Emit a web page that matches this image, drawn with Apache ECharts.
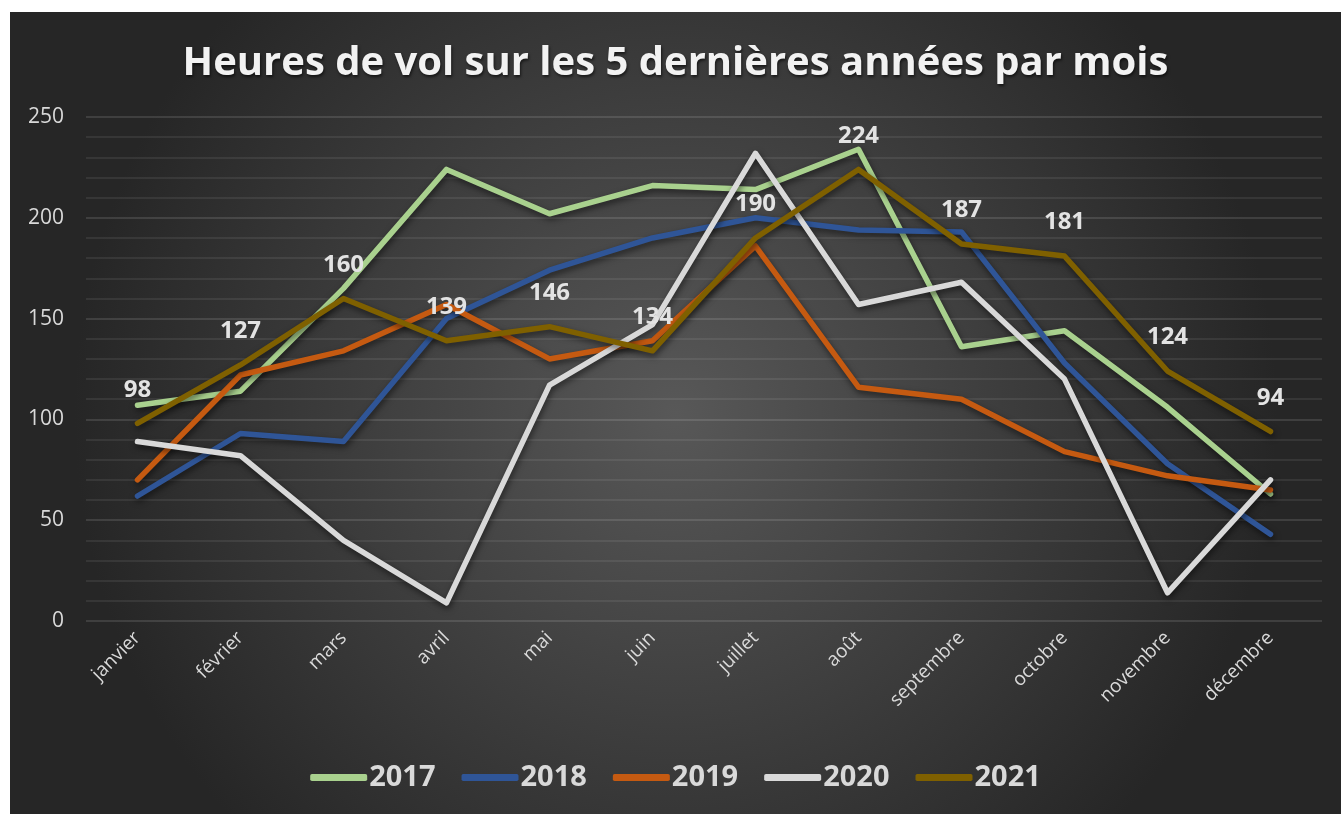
<!DOCTYPE html>
<html>
<head>
<meta charset="utf-8">
<script src="https://cdn.jsdelivr.net/npm/echarts@6/dist/echarts.min.js"></script>
<style>
  html, body { margin: 0; padding: 0; background: #ffffff; }
  #chart { position: absolute; left: 10px; top: 12px; width: 1331px; height: 802px; }
</style>
</head>
<body>
<div id="chart"></div>
<script>
// mois
var months = ['janvier', 'février', 'mars', 'avril', 'mai', 'juin', 'juillet', 'août', 'septembre', 'octobre', 'novembre', 'décembre'];
var years = ['2017', '2018', '2019', '2020', '2021'];

// heures de vol par année
var h2017 = [107, 114, 165, 224, 202, 216, 214, 234, 136, 144, 106, 63];
var h2018 = [62, 93, 89, 150, 174, 190, 200, 194, 193, 128, 78, 43];
var h2019 = [70, 122, 134, 157, 130, 139, 186, 116, 110, 84, 72, 65];
var h2020 = [89, 82, 40, 9, 117, 147, 232, 157, 168, 120, 14, 70];
var h2021 = [98, 127, 160, 139, 146, 134, 190, 224, 187, 181, 124, 94];

var myColor = ['#A9D18E', '#2F5597', '#C55A11', '#D9D9D9', '#7F6000'];
var allData = [h2017, h2018, h2019, h2020, h2021];

var series = [];
var legendData = [];
for (var i = 0; i < years.length; i++) {
  var withLabel = (i === 4); // seule 2021 a ses valeurs
  series.push({
    name: years[i],
    type: 'line',
    data: allData[i],
    symbol: 'circle',
    showSymbol: withLabel,
    symbolSize: 1,
    lineStyle: {
      width: 5.5,
      color: myColor[i],
      cap: 'round',
      join: 'round',
      shadowColor: 'rgba(0,0,0,0.55)',
      shadowBlur: 6,
      shadowOffsetX: 1,
      shadowOffsetY: 3
    },
    itemStyle: { color: myColor[i], opacity: withLabel ? 0 : 1 },
    label: {
      show: withLabel,
      position: 'top',
      distance: 21,
      color: '#E3E3E3',
      opacity: 1,
      fontFamily: 'Open Sans',
      fontWeight: 'bold',
      fontSize: 24
    },
    emphasis: { disabled: true }
  });
  legendData.push({ name: years[i], itemStyle: { color: myColor[i], opacity: 1 } });
}

var option = {
  backgroundColor: {
    type: 'radial',
    x: 0.5,
    y: 0.5,
    r: 0.75,
    colorStops: [
      { offset: 0, color: '#585858' },
      { offset: 1, color: '#262626' }
    ]
  },
  title: {
    text: 'Heures de vol sur les 5 dernières années par mois',
    left: 'center',
    top: 27,
    textStyle: {
      fontFamily: 'Open Sans',
      fontSize: 40,
      fontWeight: 'bold',
      color: '#F2F2F2',
      textShadowColor: 'rgba(0,0,0,0.6)',
      textShadowBlur: 3,
      textShadowOffsetX: 1,
      textShadowOffsetY: 2
    }
  },
  legend: {
    data: legendData,
    bottom: 17,
    left: 'center',
    icon: 'roundRect',
    itemWidth: 57,
    itemHeight: 7,
    itemGap: 26,
    textStyle: {
      fontFamily: 'Open Sans',
      fontSize: 29,
      fontWeight: 'bold',
      color: '#D9D9D9',
      padding: [0, 0, 0, -3]
    }
  },
  grid: {
    top: 105,
    left: 76,
    right: 19,
    bottom: 193,
    containLabel: false
  },
  xAxis: {
    type: 'category',
    data: months,
    boundaryGap: true,
    axisLine: { show: false },
    axisTick: { show: false },
    axisLabel: {
      rotate: 45,
      margin: 14,
      color: '#D9D9D9',
      fontFamily: 'Open Sans',
      fontSize: 19
    }
  },
  yAxis: {
    type: 'value',
    min: 0,
    max: 250,
    interval: 50,
    axisLine: { show: false },
    axisTick: { show: false },
    axisLabel: {
      margin: 22,
      color: '#D9D9D9',
      fontFamily: 'Open Sans',
      fontSize: 21
    },
    splitLine: {
      lineStyle: { color: 'rgba(255,255,255,0.16)', width: 1.5 }
    },
    minorTick: { show: false, splitNumber: 5 },
    minorSplitLine: {
      show: true,
      lineStyle: { color: 'rgba(255,255,255,0.10)', width: 1.5 }
    }
  },
  series: series
};

var myChart = echarts.init(document.getElementById('chart'));
myChart.setOption(option);
</script>
</body>
</html>
